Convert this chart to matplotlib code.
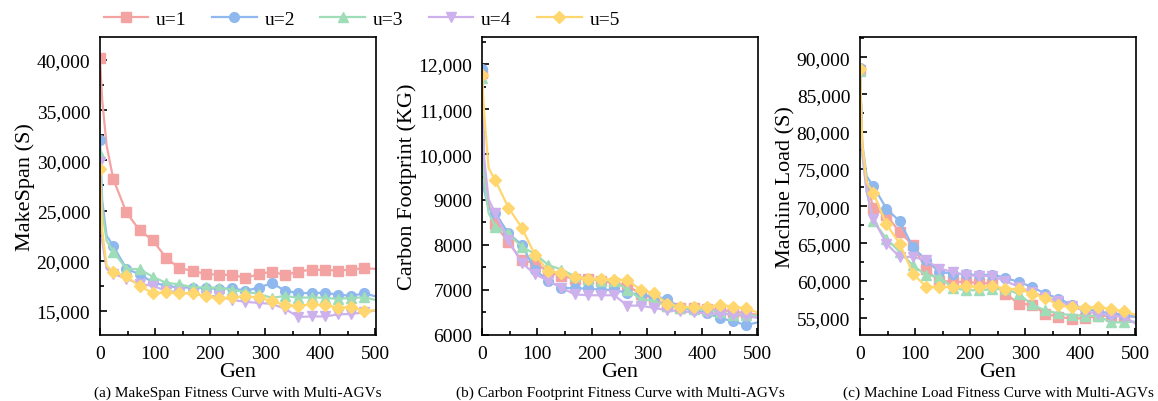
import matplotlib
matplotlib.use('Agg')
import matplotlib.pyplot as plt
from matplotlib.ticker import MultipleLocator, FuncFormatter

plt.rcParams['font.family'] = 'Liberation Serif'

gens = [0, 4, 12, 24, 48, 72, 96, 120, 144, 168, 192, 216, 240,
        264, 288, 312, 336, 360, 384, 408, 432, 456, 480, 500]
marks = [0] + list(range(3, 23))

labels = ['u=1', 'u=2', 'u=3', 'u=4', 'u=5']
colors = ['#F4A3A3', '#8FB8EE', '#9EDDB8', '#CDB1EC', '#FFD76E']
markers = ['s', 'o', '^', 'v', 'D']

# (a) makespan
ms_u1 = [40200, 36000, 31500, 28150, 24810, 23030, 22030, 20290, 19260, 18990, 18680, 18610,
         18580, 18310, 18650, 18920, 18580, 18920, 19120, 19090, 19020, 19120, 19260, 19190]
ms_u2 = [32050, 26000, 22500, 21470, 19200, 18650, 17850, 17500, 17330, 17330, 17260, 17200,
         17250, 17010, 17310, 17780, 17010, 16780, 16780, 16810, 16610, 16510, 16750, 16450]
ms_u3 = [30600, 25000, 22000, 20900, 19200, 19150, 18400, 17800, 17650, 17350, 17350, 17300,
         17100, 16900, 16700, 16300, 16500, 16300, 16350, 16300, 16200, 16300, 16350, 16100]
ms_u4 = [29800, 22000, 19200, 18700, 18200, 17700, 17500, 17000, 16850, 16700, 16500, 16450,
         16100, 15900, 15800, 15700, 15200, 14400, 14450, 14450, 14650, 14700, 14850, 15050]
ms_u5 = [29100, 23000, 19500, 18850, 18450, 17450, 16780, 16840, 16780, 16780, 16450, 16240,
         16340, 16440, 16340, 16000, 15570, 15500, 15670, 15570, 15340, 15400, 15000, 15070]

# (b) carbon footprint
cf_u1 = [11800, 9600, 8900, 8450, 8050, 7650, 7600, 7400, 7300, 7250, 7250, 7200,
         7150, 7100, 6900, 6800, 6650, 6600, 6600, 6580, 6560, 6520, 6480, 6450]
cf_u2 = [11900, 9200, 8800, 8700, 8250, 8000, 7450, 7200, 7050, 7030, 7030, 7000,
         7000, 6930, 6900, 6850, 6800, 6600, 6550, 6480, 6380, 6300, 6220, 6280]
cf_u3 = [11700, 9400, 8700, 8400, 8250, 7950, 7800, 7550, 7450, 7300, 7250, 7200,
         7200, 7000, 6800, 6750, 6650, 6600, 6580, 6550, 6500, 6450, 6450, 6420]
cf_u4 = [11700, 9900, 9000, 8700, 8100, 7600, 7350, 7200, 7050, 6900, 6880, 6880,
         6880, 6650, 6650, 6600, 6550, 6530, 6500, 6480, 6470, 6450, 6420, 6380]
cf_u5 = [11750, 10900, 9700, 9430, 8820, 8380, 7780, 7420, 7370, 7280, 7250, 7240,
         7220, 7220, 7000, 6930, 6690, 6630, 6610, 6630, 6660, 6630, 6590, 6500]

# (c) machine load
ml_u1 = [88300, 78000, 73500, 69700, 68800, 66500, 64800, 61500, 59900, 59900, 59800, 59700,
         59600, 58260, 56920, 56780, 55580, 55130, 54900, 54960, 55270, 55270, 55270, 55130]
ml_u2 = [88500, 78500, 74000, 72700, 69660, 67960, 64520, 62730, 61170, 60950, 60860, 60720,
         60810, 60360, 59830, 59160, 58260, 57590, 56780, 56250, 55890, 55580, 55440, 55130]
ml_u3 = [88200, 77000, 72000, 68000, 65640, 63850, 62060, 60720, 60500, 59020, 58710, 58710,
         58840, 58900, 58200, 56800, 56000, 55600, 55350, 55300, 55250, 54400, 54400, 54500]
ml_u4 = [88000, 77500, 72000, 68320, 64970, 63180, 63180, 62730, 61620, 61170, 60720, 60630,
         60630, 59910, 59200, 58440, 57800, 57200, 56600, 55890, 55580, 55270, 55130, 54240]
ml_u5 = [88440, 78500, 73200, 71810, 67560, 64970, 60950, 59160, 59160, 59160, 59290, 59160,
         59290, 58930, 58840, 58260, 57680, 56690, 56470, 56380, 56470, 56150, 55890, 55400]

panels = [
    ([ms_u1, ms_u2, ms_u3, ms_u4, ms_u5], 'MakeSpan (S)', (12600, 42300), 5000,
     '(a) MakeSpan Fitness Curve with Multi-AGVs'),
    ([cf_u1, cf_u2, cf_u3, cf_u4, cf_u5], 'Carbon Footprint (KG)', (6000, 12600), 1000,
     '(b) Carbon Footprint Fitness Curve with Multi-AGVs'),
    ([ml_u1, ml_u2, ml_u3, ml_u4, ml_u5], 'Machine Load (S)', (52700, 92700), 5000,
     '(c) Machine Load Fitness Curve with Multi-AGVs'),
]


def fmt(v, pos):
    if v >= 10000:
        return f'{v:,.0f}'
    return f'{v:.0f}'


W, H = 1158, 402
fig = plt.figure(figsize=(W / 100, H / 100), dpi=100)
lefts = [100, 482, 860]

for left, (series, ylab, ylim, step, cap) in zip(lefts, panels):
    ax = fig.add_axes([left / W, 1 - 336 / H, 276 / W, (336 - 38) / H])
    for vals, lab, c, m in zip(series, labels, colors, markers):
        ax.plot(gens, vals, color=c, marker=m, markevery=marks, lw=1.6,
                ms=7 if m != 'D' else 6.5, label=lab)
    ax.set_xlim(0, 501)
    ax.set_ylim(*ylim)
    ax.xaxis.set_major_locator(MultipleLocator(100))
    ax.xaxis.set_minor_locator(MultipleLocator(50))
    ax.yaxis.set_major_locator(MultipleLocator(step))
    ax.yaxis.set_minor_locator(MultipleLocator(step / 2))
    ax.yaxis.set_major_formatter(FuncFormatter(fmt))
    ax.tick_params(which='both', direction='in', top=False, right=False,
                   labelsize=14, width=1.2)
    ax.tick_params(which='major', length=5, pad=7)
    ax.tick_params(which='minor', length=3)
    for sp in ax.spines.values():
        sp.set_linewidth(1.2)
    ax.set_ylabel(ylab, fontsize=16, labelpad=1)
    ax.set_xlabel('Gen', fontsize=16, labelpad=0)
    fig.text((left + 138) / W, 1 - 393 / H, cap, ha='center', va='center', fontsize=11)

handles, labs = ax.get_legend_handles_labels()
fig.legend(handles, labs, loc='center left', bbox_to_anchor=(86 / W, 1 - 20 / H),
           ncol=5, frameon=False, fontsize=14, handlelength=2.3, columnspacing=1.3,
           handletextpad=0.4)

fig.savefig('out.png', dpi=100)
